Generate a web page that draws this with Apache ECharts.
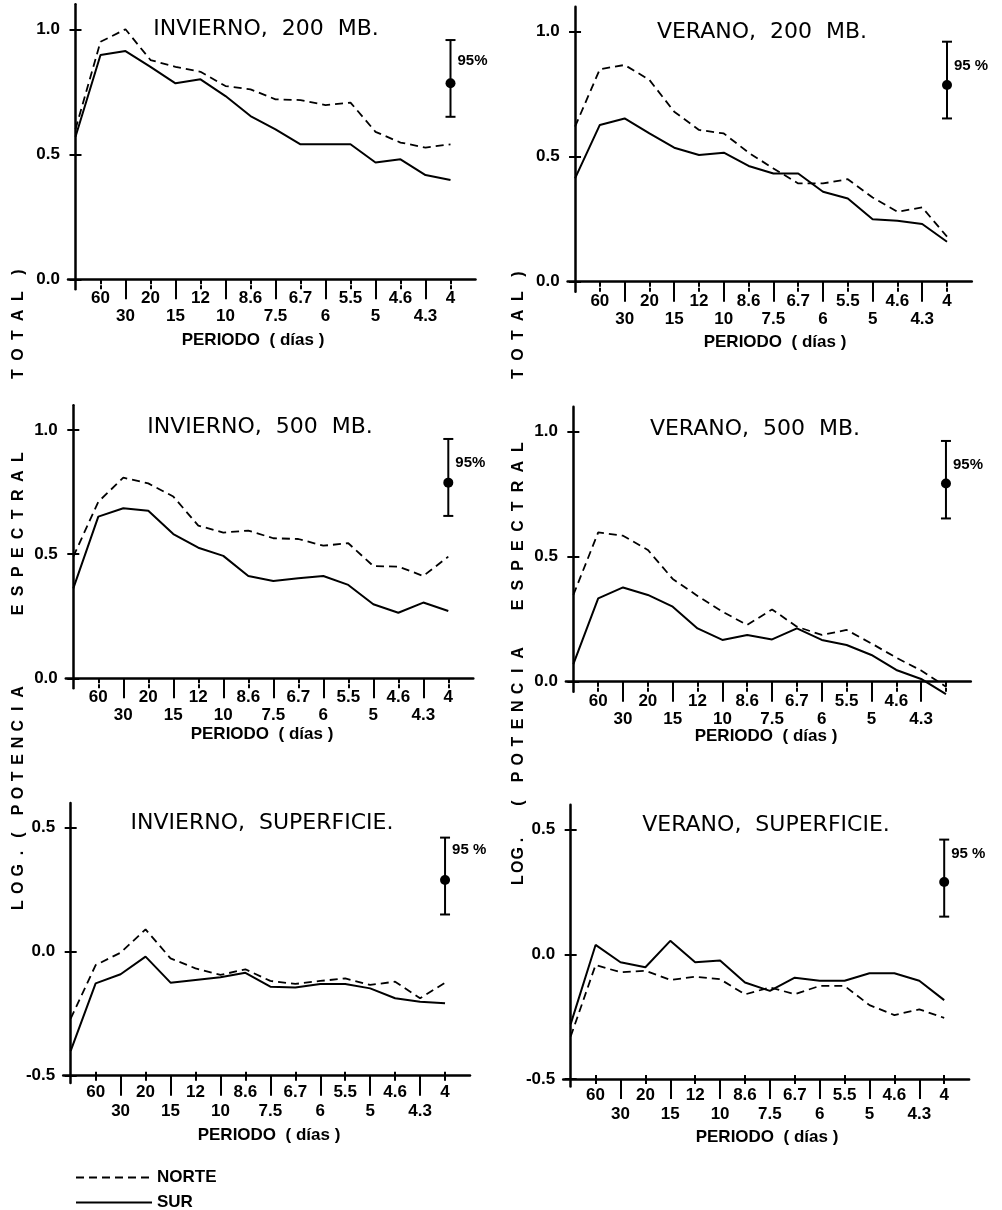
<!DOCTYPE html>
<html><head><meta charset="utf-8">
<script src="https://cdn.jsdelivr.net/npm/echarts@6/dist/echarts.min.js"></script>
<style>html,body{margin:0;padding:0;background:#fff}#c{width:1002px;height:1210px}</style>
</head><body><div id="c"></div>
<script>
// ---------- data ----------
const periodLabels = ['60','30','20','15','12','10','8.6','7.5','6.7','6','5.5','5','4.6','4.3','4'];
const harmonics = [0,1,2,3,4,5,6,7,8,9,10,11,12,13,14,15];

const inv200Norte = [0.60,0.95,1.0,0.877,0.85,0.83,0.773,0.76,0.72,0.717,0.697,0.707,0.59,0.547,0.527,0.54];
const inv200Sur   = [0.57,0.897,0.913,0.85,0.784,0.80,0.733,0.653,0.60,0.54,0.54,0.54,0.467,0.48,0.417,0.397];
const ver200Norte = [0.62,0.85,0.867,0.807,0.68,0.607,0.593,0.516,0.453,0.393,0.393,0.41,0.337,0.28,0.297,0.18];
const ver200Sur   = [0.413,0.627,0.653,0.593,0.536,0.507,0.516,0.463,0.433,0.433,0.36,0.333,0.25,0.244,0.231,0.16];
const inv500Norte = [0.49,0.711,0.808,0.785,0.732,0.615,0.587,0.595,0.564,0.561,0.534,0.544,0.452,0.45,0.412,0.49];
const inv500Sur   = [0.362,0.651,0.685,0.675,0.581,0.526,0.493,0.412,0.392,0.403,0.412,0.376,0.298,0.264,0.305,0.271];
const ver500Norte = [0.347,0.597,0.584,0.527,0.411,0.343,0.28,0.227,0.289,0.22,0.187,0.207,0.153,0.096,0.045,-0.02];
const ver500Sur   = [0.07,0.333,0.377,0.347,0.30,0.213,0.167,0.187,0.169,0.213,0.167,0.147,0.107,0.047,0.011,-0.05];
const invSupNorte = [-0.27,-0.054,-0.004,0.09,-0.027,-0.067,-0.094,-0.071,-0.118,-0.13,-0.118,-0.108,-0.134,-0.121,-0.188,-0.125];
const invSupSur   = [-0.40,-0.128,-0.091,-0.02,-0.125,-0.114,-0.103,-0.085,-0.141,-0.144,-0.13,-0.13,-0.148,-0.188,-0.202,-0.208];
const verSupNorte = [-0.33,-0.043,-0.072,-0.066,-0.103,-0.09,-0.10,-0.161,-0.133,-0.16,-0.127,-0.127,-0.204,-0.244,-0.221,-0.255];
const verSupSur   = [-0.28,0.0375,-0.032,-0.052,0.054,-0.032,-0.025,-0.113,-0.147,-0.094,-0.106,-0.106,-0.076,-0.076,-0.106,-0.184];

// 95% confidence bars: [low, centre, high] at the last harmonic
const errInv200 = [0.65, 0.784, 0.957];
const errVer200 = [0.653, 0.787, 0.96];
const errInv500 = [0.654, 0.788, 0.964];
const errVer500 = [0.653, 0.793, 0.963];
const errInvSup = [0.15, 0.289, 0.46];
const errVerSup = [0.151, 0.29, 0.46];
const errHarmonic = 15;

const yTicksUpper = [0, 0.5, 1.0];
const yTicksSurface = [-0.5, 0, 0.5];

// ---------- layout ----------
const panels = [
  {title:'INVIERNO,  200  MB.', tx:266, ty:29, px:253, py:340, grid:{left:68,top:4.3,width:407.5,height:285}, ymin:-0.04, ymax:1.1, base:0, yt:yTicksUpper, norte:inv200Norte, sur:inv200Sur, err:errInv200, eLabel:'95%', eDy:21, hide:[]},
  {title:'VERANO,  200  MB.', tx:762, ty:32, px:775, py:342, grid:{left:567.6,top:6.7,width:404.2,height:285}, ymin:-0.04, ymax:1.1, base:0, yt:yTicksUpper, norte:ver200Norte, sur:ver200Sur, err:errVer200, eLabel:'95 %', eDy:24, hide:[]},
  {title:'INVIERNO,  500  MB.', tx:260, ty:427, px:262, py:734, grid:{left:65.8,top:405.2,width:407.5,height:283}, ymin:-0.04, ymax:1.1, base:0, yt:yTicksUpper, norte:inv500Norte, sur:inv500Sur, err:errInv500, eLabel:'95%', eDy:24, hide:[]},
  {title:'VERANO,  500  MB.', tx:755, ty:429, px:766, py:736, grid:{left:565.9,top:406.7,width:404.9,height:285}, ymin:-0.04, ymax:1.1, base:0, yt:yTicksUpper, norte:ver500Norte, sur:ver500Sur, err:errVer500, eLabel:'95%', eDy:24, hide:['4']},
  {title:'INVIERNO,  SUPERFICIE.', tx:262, ty:823, px:269, py:1135, grid:{left:63.2,top:802.9,width:406.8,height:280.2}, ymin:-0.53, ymax:0.6, base:-0.5, yt:yTicksSurface, norte:invSupNorte, sur:invSupSur, err:errInvSup, eLabel:'95 %', eDy:12, hide:[]},
  {title:'VERANO,  SUPERFICIE.', tx:766, ty:825, px:767, py:1137, grid:{left:563.2,top:804.7,width:405.9,height:281.7}, ymin:-0.53, ymax:0.6, base:-0.5, yt:yTicksSurface, norte:verSupNorte, sur:verSupSur, err:errVerSup, eLabel:'95 %', eDy:14, hide:[]}
];

const oddH = harmonics.filter(h => h > 0 && h % 2 === 1);
const evenH = harmonics.filter(h => h > 0 && h % 2 === 0);
const labFont = {fontFamily:'Liberation Sans', fontWeight:'bold', fontSize:17, color:'#000'};
const BLACK = '#000';

const grids = [], xAxes = [], yAxes = [], series = [], graphics = [];

panels.forEach((p, i) => {
  grids.push(Object.assign({outerBoundsMode:'none', containLabel:false}, p.grid));
  const onZero = p.base === 0;
  const off = onZero ? 0 : -((p.base - p.ymin) * p.grid.height / (p.ymax - p.ymin));
  const mA = onZero ? 1 : 8, mB = onZero ? 19 : 27;
  const fmt = v => { const s = periodLabels[Math.round(v) - 1]; return p.hide.indexOf(s) >= 0 ? '' : s; };
  const common = {type:'value', gridIndex:i, min:-0.3, max:16, position:'bottom', offset:off, splitLine:{show:false}};
  xAxes.push(Object.assign({}, common, {
    axisLine:{show:true, onZero:onZero, lineStyle:{color:BLACK, width:2.5}},
    axisTick:{show:true, customValues:oddH, length:5, lineStyle:{color:BLACK, width:2}},
    axisLabel:Object.assign({show:true, customValues:oddH, formatter:fmt, margin:mA}, labFont)
  }));
  xAxes.push(Object.assign({}, common, {
    axisLine:{show:false, onZero:onZero},
    axisTick:{show:true, customValues:evenH, length:20, lineStyle:{color:BLACK, width:2}},
    axisLabel:Object.assign({show:true, customValues:evenH, formatter:fmt, margin:mB}, labFont)
  }));
  xAxes.push(Object.assign({}, common, {
    axisLine:{show:false, onZero:onZero},
    axisTick:{show:true, inside:true, customValues:oddH, length:4, lineStyle:{color:BLACK, width:2}},
    axisLabel:{show:false}
  }));
  const yCommon = {type:'value', gridIndex:i, min:p.ymin, max:p.ymax, position:'left', splitLine:{show:false}};
  yAxes.push(Object.assign({}, yCommon, {
    axisLine:{show:true, onZero:true, lineStyle:{color:BLACK, width:2.5}},
    axisTick:{show:true, customValues:p.yt, length:6, lineStyle:{color:BLACK, width:2}},
    axisLabel:Object.assign({show:true, customValues:p.yt, formatter:v => v.toFixed(1), margin:8}, labFont)
  }));
  yAxes.push(Object.assign({}, yCommon, {
    axisLine:{show:false, onZero:true},
    axisTick:{show:true, inside:true, customValues:p.yt, length:6, lineStyle:{color:BLACK, width:2}},
    axisLabel:{show:false}
  }));

  series.push({name:'NORTE', type:'line', xAxisIndex:3*i, yAxisIndex:2*i, symbol:'none', clip:false, animation:false,
    lineStyle:{color:BLACK, width:1.8, type:[8,5]}, itemStyle:{color:BLACK},
    data: harmonics.map((h, k) => [h, p.norte[k]])});
  series.push({name:'SUR', type:'line', xAxisIndex:3*i, yAxisIndex:2*i, symbol:'none', clip:false, animation:false,
    lineStyle:{color:BLACK, width:2, type:'solid'}, itemStyle:{color:BLACK},
    data: harmonics.map((h, k) => [h, p.sur[k]])});
  series.push({type:'custom', xAxisIndex:3*i, yAxisIndex:2*i, clip:false, animation:false, silent:true,
    data:[[errHarmonic, p.err[0], p.err[1], p.err[2]]],
    renderItem:(params, api) => {
      const x = api.value(0);
      const lo = api.coord([x, api.value(1)]);
      const c = api.coord([x, api.value(2)]);
      const hi = api.coord([x, api.value(3)]);
      const st = {stroke:BLACK, lineWidth:2};
      return {type:'group', children:[
        {type:'line', shape:{x1:lo[0], y1:lo[1], x2:hi[0], y2:hi[1]}, style:st},
        {type:'line', shape:{x1:lo[0]-5, y1:lo[1], x2:lo[0]+5, y2:lo[1]}, style:st},
        {type:'line', shape:{x1:hi[0]-5, y1:hi[1], x2:hi[0]+5, y2:hi[1]}, style:st},
        {type:'circle', shape:{cx:c[0], cy:c[1], r:5}, style:{fill:BLACK}},
        {type:'text', x:hi[0]+7, y:hi[1]+p.eDy, style:{text:p.eLabel, font:'bold 15px "Liberation Sans"', fill:BLACK, align:'left', verticalAlign:'middle'}}
      ]};
    }});

  graphics.push({type:'text', x:p.tx, y:p.ty, style:{text:p.title, font:'22px "DejaVu Sans"', fill:BLACK, align:'center', verticalAlign:'middle'}});
  graphics.push({type:'text', x:p.px, y:p.py, style:{text:'PERIODO  ( días )', font:'bold 17px "Liberation Sans"', fill:BLACK, align:'center', verticalAlign:'middle'}});
});

// vertical axis title, letter by letter (bottom to top)
function vWord(word, x, yB, yT) {
  const n = word.length;
  for (let k = 0; k < n; k++) {
    const y = n === 1 ? yB : yB + (yT - yB) * k / (n - 1);
    graphics.push({type:'text', x:x, y:y, rotation:Math.PI/2,
      style:{text:word[k], font:'bold 16px "Liberation Sans"', fill:BLACK, align:'center', verticalAlign:'middle'}});
  }
}
[[19, [['LOG.',905,853],['(',835,835],['POTENCIA',810,692],['ESPECTRAL',610,457],['TOTAL',374,296],[')',272,272]]],
 [519,[['LOG.',880,840],['(',803,803],['POTENCIA',777,653],['ESPECTRAL',605,447],['TOTAL',374,296],[')',274,274]]]]
.forEach(([x, words]) => words.forEach(w => vWord(w[0], x, w[1], w[2])));

const legendCommon = {left:70, itemWidth:76, itemHeight:12, selectedMode:false,
  itemStyle:{opacity:0},
  textStyle:{fontFamily:'Liberation Sans', fontWeight:'bold', fontSize:17, color:BLACK}};

const chart = echarts.init(document.getElementById('c'));
chart.setOption({
  animation:false,
  backgroundColor:'#fff',
  grid:grids, xAxis:xAxes, yAxis:yAxes, series:series,
  legend:[
    Object.assign({data:['NORTE'], top:1164}, legendCommon),
    Object.assign({data:['SUR'], top:1189}, legendCommon)
  ],
  graphic:{elements:graphics}
});
</script></body></html>
